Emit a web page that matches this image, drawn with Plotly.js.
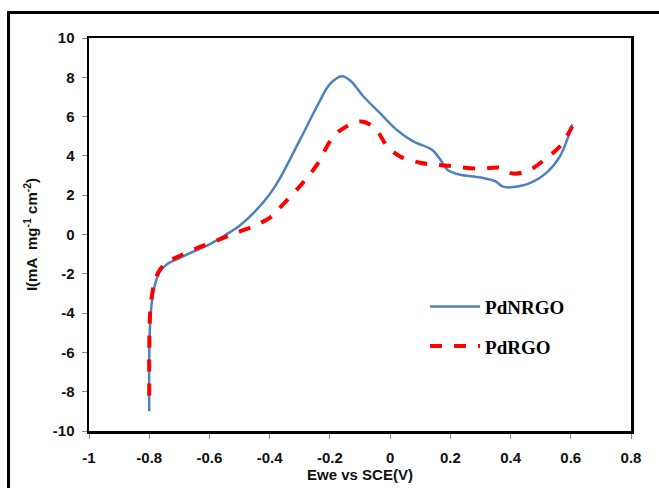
<!DOCTYPE html>
<html>
<head>
<meta charset="utf-8">
<script src="https://cdn.plot.ly/plotly-3.0.1.min.js"></script>
<style>
html,body{margin:0;padding:0;background:#fff;}
#wrap{position:relative;width:659px;height:488px;overflow:hidden;}
#frame{position:absolute;left:7px;top:11px;width:700px;height:600px;border-left:3px solid #000;border-top:3px solid #000;box-sizing:border-box;pointer-events:none;z-index:5;}
#chart{position:absolute;left:0;top:0;width:659px;height:488px;}
</style>
</head>
<body>
<div id="wrap"><div id="chart"></div><div id="frame"></div></div>
<script>
const pdnrgoX = [-0.80,-0.80,-0.797,-0.79,-0.78,-0.765,-0.74,-0.70,-0.65,-0.60,-0.55,-0.50,-0.45,-0.40,-0.37,-0.30,-0.235,-0.20,-0.16,-0.13,-0.09,-0.035,0.02,0.075,0.14,0.165,0.19,0.23,0.30,0.35,0.373,0.40,0.47,0.52,0.565,0.605];
const pdnrgoY = [-9.0,-6.5,-4.5,-3.3,-2.5,-1.9,-1.5,-1.2,-0.85,-0.5,-0.05,0.45,1.15,2.05,2.75,4.8,6.75,7.65,8.05,7.8,7.05,6.2,5.35,4.75,4.3,3.85,3.3,3.05,2.9,2.7,2.45,2.4,2.65,3.15,4.0,5.6];
const pdrgoX = [-0.80,-0.80,-0.797,-0.79,-0.78,-0.765,-0.74,-0.70,-0.65,-0.60,-0.55,-0.50,-0.45,-0.40,-0.37,-0.30,-0.245,-0.19,-0.145,-0.095,-0.05,-0.01,0.03,0.10,0.19,0.30,0.365,0.41,0.465,0.52,0.565,0.605];
const pdrgoY = [-8.2,-6.0,-4.0,-3.0,-2.3,-1.8,-1.4,-1.1,-0.75,-0.45,-0.15,0.15,0.45,0.85,1.3,2.45,3.5,4.95,5.5,5.75,5.4,4.5,4.0,3.65,3.5,3.35,3.4,3.1,3.3,3.9,4.5,5.5];
const xTicks = [-1,-0.8,-0.6,-0.4,-0.2,0,0.2,0.4,0.6,0.8];
const yTicks = [-10,-8,-6,-4,-2,0,2,4,6,8,10];

const sans = 'Liberation Sans, Arial, sans-serif';
const traces = [
  {x:pdnrgoX, y:pdnrgoY, name:'PdNRGO', legendgroup:'a', mode:'lines', line:{color:'#4f81bd', width:2.5, shape:'spline', smoothing:1}},
  {x:pdrgoX, y:pdrgoY, name:'PdRGO', legendgroup:'b', mode:'lines', line:{color:'#ff0000', width:4, dash:'dash', shape:'spline', smoothing:1}}
];
const layout = {
  width:659, height:488,
  margin:{l:89, r:28, t:38, b:57},
  paper_bgcolor:'#fff', plot_bgcolor:'#fff',
  showlegend:true,
  legend:{x:0.62, y:0.365, xanchor:'left', yanchor:'top', bgcolor:'rgba(0,0,0,0)',
    traceorder:'grouped',
    font:{family:'Liberation Serif, Times New Roman, serif', size:19, color:'#000', weight:'bold'},
    itemwidth:50, tracegroupgap:12},
  xaxis:{range:[-1,0.8], tickvals:xTicks, ticktext:xTicks.map(String), showgrid:false, zeroline:false,
    showline:true, linecolor:'#000', linewidth:2.5, mirror:true,
    ticks:'outside', ticklen:5, tickcolor:'#888', tickwidth:1, ticklabelstandoff:6,
    tickfont:{family:sans, size:15, color:'#111', weight:'bold'},
    title:{text:'Ewe vs SCE(V)', standoff:2, font:{family:sans, size:15, color:'#111', weight:'bold'}}},
  yaxis:{range:[-10,10], tickvals:yTicks, ticktext:yTicks.map(String), showgrid:false, zeroline:false,
    showline:true, linecolor:'#000', linewidth:2.5, mirror:true,
    ticks:'outside', ticklen:5, tickcolor:'#888', tickwidth:1, ticklabelstandoff:4,
    tickfont:{family:sans, size:15, color:'#111', weight:'bold'},
    title:{text:'I(mA  mg<sup>-1</sup> cm<sup>-2</sup>)', standoff:12, font:{family:sans, size:15, color:'#111', weight:'bold'}}}
};
Plotly.newPlot('chart', traces, layout, {displayModeBar:false, staticPlot:true});
</script>
</body>
</html>
